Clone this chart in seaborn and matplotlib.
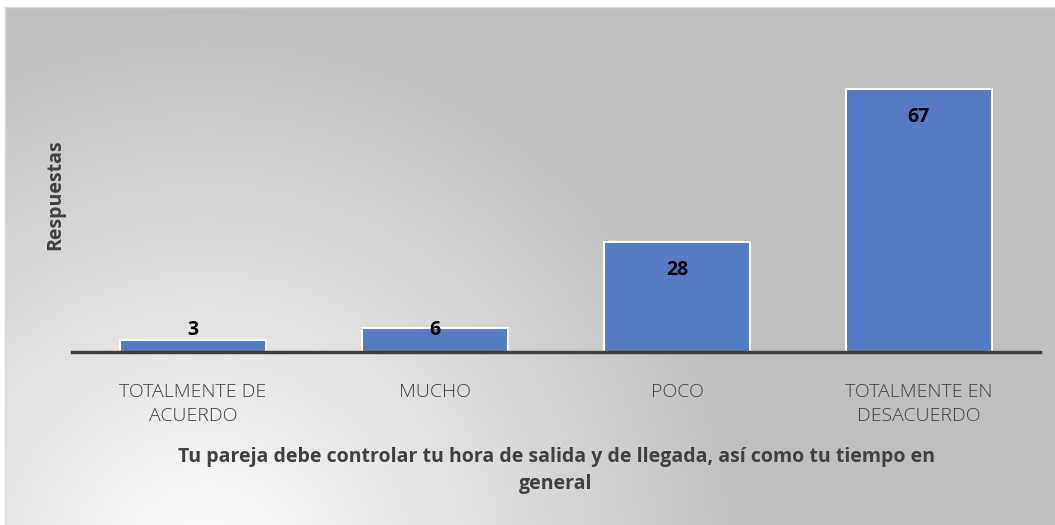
import numpy as np
import matplotlib
matplotlib.use("Agg")
import matplotlib.pyplot as plt
import seaborn as sns

# data
categorias = ["TOTALMENTE DE\nACUERDO", "MUCHO", "POCO", "TOTALMENTE EN\nDESACUERDO"]
respuestas = [3, 6, 28, 67]
titulo_x = "Tu pareja debe controlar tu hora de salida y de llegada, así como tu tiempo en\ngeneral"
titulo_y = "Respuestas"

sns.set_style("white")
plt.rcParams['font.family'] = ['Open Sans', 'DejaVu Sans']

fig = plt.figure(figsize=(10.55, 5.25), dpi=100)

# background: radial gradient, white at lower left, gray elsewhere
bg = fig.add_axes([5/1055, 0, 1 - 5/1055, 1 - 7/525])
h, w = 518, 1050
yy, xx = np.mgrid[0:h, 0:w]
dist = np.sqrt((xx - 200.0) ** 2 + (yy - 560.0) ** 2)
t = np.clip(dist / 560.0, 0, 1)
shade = 1.0 - t * (1.0 - 0.75)
img = np.dstack([shade, shade, shade])
bg.imshow(img, aspect='auto', extent=[0, 1, 0, 1])
bg.set_xticks([])
bg.set_yticks([])
for s in bg.spines.values():
    s.set_color('#D9D9D9')
    s.set_linewidth(1)
bg.spines['right'].set_visible(False)
bg.spines['bottom'].set_visible(False)

ax = fig.add_axes([72/1055, (525 - 352)/525, 968/1055, 314/525])
ax.patch.set_alpha(0)
sns.barplot(x=categorias, y=respuestas, color='#557BC4', saturation=1,
            width=0.6, edgecolor='white', linewidth=1.5, ax=ax)
ax.set_ylim(0, 80)
ax.set_xlim(-0.5, 3.5)
ax.set_yticks([])

# value labels, inside the top of the bar (short bars get a minimum height)
for i, v in enumerate(respuestas):
    ax.text(i, max(v - 7, 5.6), str(v), ha='center', va='center',
            fontsize=14, fontweight='bold', color='black')

ax.tick_params(axis='x', length=0, pad=22, labelsize=14, labelcolor='#404040')
for lbl in ax.get_xticklabels():
    lbl.set_fontweight('light')
    lbl.set_linespacing(1.45)

ax.set_xlabel(titulo_x, fontsize=14, fontweight='bold', color='#404040',
              labelpad=16, linespacing=1.45)
ax.set_ylabel(titulo_y, fontsize=14, fontweight='bold', color='#404040', labelpad=5)

for s in ['top', 'right', 'left']:
    ax.spines[s].set_visible(False)
ax.spines['bottom'].set_color('#404040')
ax.spines['bottom'].set_linewidth(2.5)

fig.savefig('out.png', dpi=100)
